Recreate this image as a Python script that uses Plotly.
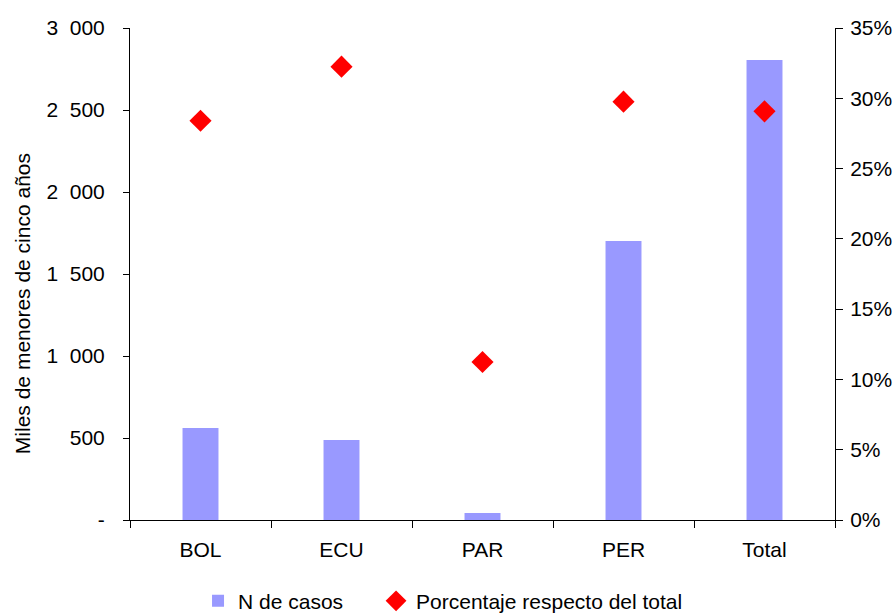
import plotly.graph_objects as go

categories = ["BOL", "ECU", "PAR", "PER", "Total"]
casos = [561, 488, 43, 1701, 2805]
porcentaje = [0.284, 0.3225, 0.1124, 0.2976, 0.2907]

left_tickvals = [0, 500, 1000, 1500, 2000, 2500, 3000]
left_ticktext = ["-", "500", "1\u00a0\u00a0000", "1\u00a0\u00a0500", "2\u00a0\u00a0000", "2\u00a0\u00a0500", "3\u00a0\u00a0000"]
right_tickvals = [0, 0.05, 0.10, 0.15, 0.20, 0.25, 0.30, 0.35]
right_ticktext = ["0%", "5%", "10%", "15%", "20%", "25%", "30%", "35%"]
y_title = "Miles de menores de cinco años"

FONT = "Arial, Liberation Sans, sans-serif"
FS = 21

fig = go.Figure()
fig.add_trace(go.Bar(
    x=categories, y=casos, name="N de casos",
    marker=dict(color="#9999FF", line=dict(width=0)),
    width=0.255, xaxis="x", yaxis="y", legend="legend",
))
fig.add_trace(go.Scatter(
    x=categories, y=porcentaje, name="Porcentaje respecto del total",
    mode="markers", marker=dict(symbol="diamond", color="#FF0000", size=17),
    xaxis="x", yaxis="y2", legend="legend2",
))

axis_common = dict(showgrid=False, zeroline=False, tickcolor="black", tickwidth=1,
                   linecolor="black", linewidth=1, automargin=False,
                   tickfont=dict(family=FONT, size=FS, color="black"))

legend_common = dict(orientation="h", y=-0.165, yanchor="middle", xanchor="left",
                     font=dict(family=FONT, size=FS, color="black"),
                     itemwidth=30, bgcolor="rgba(0,0,0,0)")

fig.update_layout(
    width=896, height=614,
    margin=dict(l=130, r=61, t=28, b=94, autoexpand=False),
    paper_bgcolor="white", plot_bgcolor="white",
    font=dict(family=FONT, size=FS, color="black"),
    showlegend=True,
    legend=dict(legend_common, x=0.0965),
    legend2=dict(legend_common, x=0.349),
    xaxis=dict(axis_common, type="category", showline=True, ticks="outside", ticklen=7,
               tickson="boundaries", range=[-0.5, 4.5], ticklabelstandoff=11),
    xaxis2=dict(axis_common, overlaying="x", anchor="y", range=[-0.5, 4.5], showline=False,
                ticks="inside", ticklen=7, tickvals=[-0.5, 0.5, 1.5, 2.5, 3.5, 4.5],
                showticklabels=False, side="bottom"),
    yaxis=dict(axis_common, range=[0, 3000], showline=True, ticks="outside", ticklen=6,
               tickvals=left_tickvals, ticktext=left_ticktext, ticklabelstandoff=14),
    yaxis2=dict(axis_common, range=[0, 0.35], overlaying="y", side="right", anchor="x",
                showline=True, ticks="outside", ticklen=7,
                tickvals=right_tickvals, ticktext=right_ticktext, ticklabelstandoff=3),
    yaxis3=dict(axis_common, range=[0, 3000], overlaying="y", side="left", anchor="x",
                showline=False, ticks="inside", ticklen=6, tickvals=left_tickvals,
                showticklabels=False),
    yaxis4=dict(axis_common, range=[0, 0.35], overlaying="y", side="right", anchor="x",
                showline=False, ticks="inside", ticklen=7, tickvals=right_tickvals,
                showticklabels=False),
    annotations=[dict(text=y_title, textangle=-90, xref="paper", yref="paper",
                      x=-0.153, y=0.439, xanchor="center", yanchor="middle",
                      showarrow=False, font=dict(family=FONT, size=FS, color="black"))],
)

fig.write_html("out.html")
